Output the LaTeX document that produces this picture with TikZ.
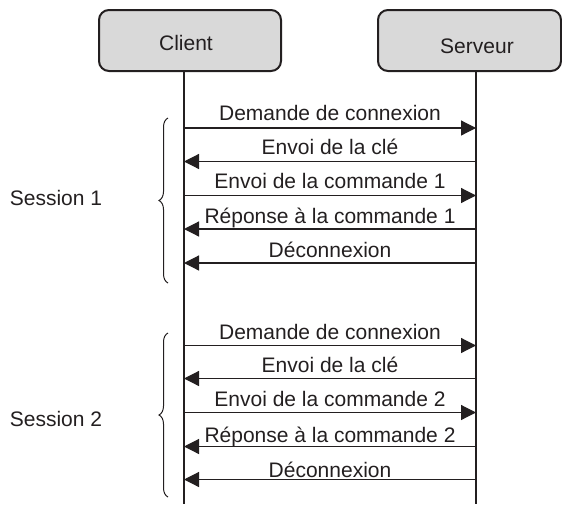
\documentclass[tikz,border=0pt]{standalone}
\usepackage{fontspec}
\setmainfont{Liberation Sans}
\usepackage{tikz}
\usetikzlibrary{arrows.meta, decorations.pathreplacing}
\usepackage{xcolor}
\definecolor{ink}{RGB}{35, 31, 32}
\definecolor{boxgray}{RGB}{217, 217, 217}

\begin{document}
\begin{tikzpicture}[x=1pt, y=-1pt, font=\fontsize{21}{25}\selectfont, color=ink,
    actor/.style={draw=ink, line width=2pt, rounded corners=10pt, fill=boxgray,
                  minimum height=61pt, inner sep=0pt},
    lifeline/.style={line width=1.2pt},
    msg/.style={line width=1.2pt, -{Triangle[length=15pt, width=15pt]}},
    msglabel/.style={anchor=base, inner sep=0pt},
    session/.style={decorate, decoration={brace, amplitude=9pt}, line width=1pt}]
  \useasboundingbox (0,0) rectangle (562,504);

  % participants
  \node[actor, minimum width=182pt] (client) at (190,40.5) {};
  \node[actor, minimum width=183pt] (serveur) at (469.5,40.5) {};
  \node[anchor=base] (clientlbl) at (186,50) {Client};
  \node[anchor=base] (serveurlbl) at (477,53) {Serveur};

  \coordinate (cbot) at (184,504);
  \coordinate (sbot) at (476,504);
  \draw[lifeline] (client.south -| cbot) -- (cbot);
  \draw[lifeline] (serveur.south -| sbot) -- (sbot);

  % messages
  \def\msgs{{"Demande de connexion","Envoi de la clé","Envoi de la commande 1",
             "Réponse à la commande 1","Déconnexion",
             "Demande de connexion","Envoi de la clé","Envoi de la commande 2",
             "Réponse à la commande 2","Déconnexion"}}
  \def\arrowys{{128,161.5,195.5,229,263,345.5,378.5,412.5,446.5,479.5}}
  \def\textys{{120,154.5,188,223,257.5,339,372.5,406.5,442.5,477.5}}
  \def\dirs{{1,0,1,0,0,1,0,1,0,0}}

  \foreach \i in {0,...,9} {
    \pgfmathsetmacro{\ay}{\arrowys[\i]}
    \pgfmathsetmacro{\ty}{\textys[\i]}
    \pgfmathtruncatemacro{\dir}{\dirs[\i]}
    \pgfmathsetmacro{\msg}{\msgs[\i]}
    \coordinate (c\i) at (184,\ay);
    \coordinate (s\i) at (476,\ay);
    \ifnum\dir=1
      \draw[msg] (c\i) -- (s\i);
    \else
      \draw[msg] (s\i) -- (c\i);
    \fi
    \node[msglabel] (m\i) at (330,\ty) {\msg};
  }

  % sessions
  \coordinate (b1top) at (168,118);
  \coordinate (b1bot) at (168,283);
  \coordinate (b2top) at (168,333);
  \coordinate (b2bot) at (168,497);
  \draw[session] (b1bot) -- (b1top);
  \draw[session] (b2bot) -- (b2top);
  \node[anchor=base] (sess1) at (56,205) {Session 1};
  \node[anchor=base] (sess2) at (56,426.5) {Session 2};
\end{tikzpicture}
\end{document}
